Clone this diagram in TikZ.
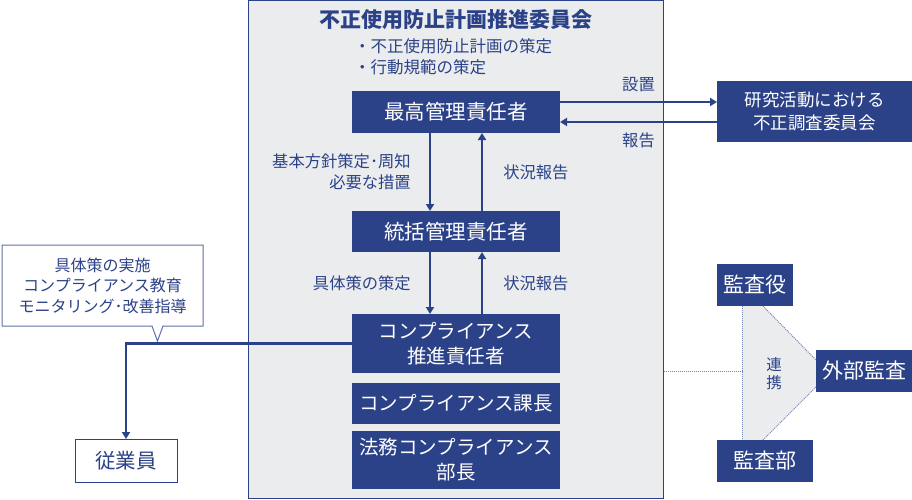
\documentclass[tikz,border=0pt]{standalone}
\usepackage{fontspec}
\setmainfont{Noto Sans CJK JP}
\usetikzlibrary{positioning, arrows.meta}
\definecolor{navy}{RGB}{44,66,136}
\definecolor{panel}{RGB}{235,236,237}
\tikzset{
    role/.style={fill=navy, text=white, inner sep=0pt, outer sep=0pt, align=center, font=\fontsize{20.5}{25}\selectfont},
    kana/.style={font=\fontsize{19.5}{25}\selectfont},
    plain/.style={draw=navy, line width=1pt, fill=white, text=navy, inner sep=0pt, outer sep=0pt, font=\fontsize{20.5}{25}\selectfont},
    note/.style={text=navy, inner sep=0pt, font=\fontsize{16.3}{21}\selectfont},
    flow/.style={navy, line width=2.5pt, -{Triangle[length=7pt,width=8pt]}},
    coop/.style={navy!65, densely dotted, line width=1pt},
  }

\begin{document}
\begin{tikzpicture}[x=1pt,y=-1pt]
							\pgfmathsetmacro\colx{456}
							\pgfmathsetmacro\boxw{208}
							\pgfmathsetmacro\dx{26}
							\useasboundingbox (0,0) rectangle (912,500);

							\node[draw=navy, line width=1pt, fill=panel, minimum width=415pt, minimum height=497pt] (committee) at (455.5,249.5) {};
							\node[note, font=\bfseries\fontsize{21}{24}\selectfont] (title) at (\colx,20) {不正使用防止計画推進委員会};
							\node[note, anchor=west, align=left, font=\fontsize{16.5}{21}\selectfont] (tasks) at (354,57) {・不正使用防止計画の策定\\・行動規範の策定};

							\node[role, minimum width=\boxw pt, minimum height=42pt] (chief) at (\colx,112) {最高管理責任者};
							\node[role, minimum width=\boxw pt, minimum height=41pt] (general) at (\colx,231.5) {統括管理責任者};
							\node[role, kana, minimum width=\boxw pt, minimum height=59pt] (promo) at (\colx,343.5) {コンプライアンス\\推進責任者};
							\node[role, kana, minimum width=\boxw pt, minimum height=41pt] (section) at (\colx,403.5) {コンプライアンス課長};
							\node[role, kana, minimum width=\boxw pt, minimum height=58pt] (legal) at (\colx,460) {法務コンプライアンス\\部長};
							\node[role, minimum width=195pt, minimum height=61pt, font=\fontsize{17.5}{23}\selectfont] (research) at (814.5,111.5) {研究活動における\\不正調査委員会};

							\draw[flow] ([xshift=-\dx pt]chief.south) -- ([xshift=-\dx pt]general.north) node[note, midway, left=18pt, align=right] {基本方針策定･周知\\必要な措置};
							\draw[flow] ([xshift=\dx pt]general.north) -- ([xshift=\dx pt]chief.south) node[note, midway, right=20pt] {状況報告};
							\draw[flow] ([xshift=-\dx pt]general.south) -- ([xshift=-\dx pt]promo.north) node[note, midway, left=18pt] {具体策の策定};
							\draw[flow] ([xshift=\dx pt]promo.north) -- ([xshift=\dx pt]general.south) node[note, midway, right=20pt] {状況報告};

							\draw[flow] ([yshift=10pt]chief.east) -- ([yshift=10pt]chief.east -| research.west) node[note, midway, above=9pt] {設置};
							\draw[flow] ([yshift=-10pt]chief.east -| research.west) -- ([yshift=-10pt]chief.east) node[note, midway, below=10pt] {報告};

							% callout
							\draw[navy!75, line width=1pt, fill=white] (2,245) -- (203,245) -- (203,326) -- (163,326) -- (157.5,341) -- (152,326) -- (2,326) -- cycle;
							\node[note, align=center, font=\fontsize{16}{20.5}\selectfont] (measures) at (102.5,285.5) {具体策の実施\\コンプライアンス教育\\モニタリング･改善指導};
							\node[plain, minimum width=102pt, minimum height=43pt] (staff) at (126,460.5) {従業員};
							\draw[flow] (promo.west) -| (staff.north);

							% audit
							\fill[panel] (742,306) -- (763,306) -- (816,360) -- (816,387) -- (763,440) -- (742,440) -- cycle;
							\draw[coop] (742,306) -- (742,440);
							\draw[coop] (763,306) -- (816,360);
							\draw[coop] (816,387) -- (763,440);
							\coordinate (hub) at (742,371);
							\draw[coop] (committee.east |- hub) -- (hub);
							\node[note, align=center, font=\fontsize{15.5}{18}\selectfont] (liaison) at (774,374) {連\\携};
							\node[role, font=\fontsize{21}{25}\selectfont, minimum width=76pt, minimum height=42pt] (auditor) at (755,285) {監査役};
							\node[role, font=\fontsize{21}{25}\selectfont, minimum width=96pt, minimum height=42pt] (external) at (864,371) {外部監査};
							\node[role, font=\fontsize{21}{25}\selectfont, minimum width=96pt, minimum height=42pt] (internal) at (765,461) {監査部};
						\end{tikzpicture}
\end{document}
